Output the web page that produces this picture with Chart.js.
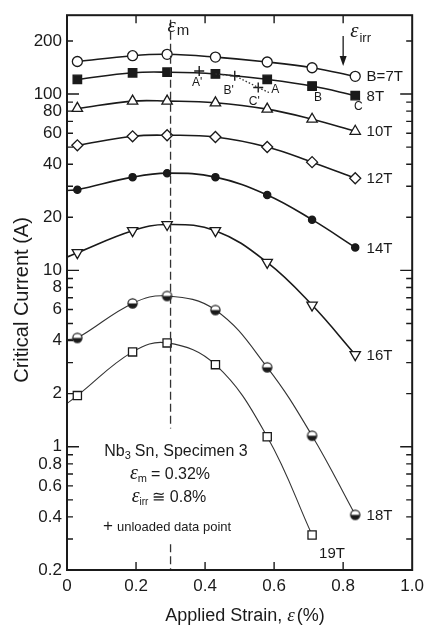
<!DOCTYPE html>
<html>
<head>
<meta charset="utf-8">
<script src="https://cdn.jsdelivr.net/npm/chart.js@4"></script>
<style>
  html, body { margin: 0; padding: 0; background: #fff; }
  #wrap { width: 430px; height: 628px; }
</style>
</head>
<body>
<div id="wrap"><canvas id="chart" width="430" height="628"></canvas></div>
<script>
// strain positions of the measured points (%)
const strainPoints = [0.03, 0.19, 0.29, 0.43, 0.58, 0.71, 0.835];

// critical current (A) for each field
const current7T = [153, 165, 168, 162, 152, 141, 126];
const current8T = [121, 132, 133, 130, 121, 111, 98];
const current10T = [82.9, 91.2, 91.2, 89.2, 82.1, 72, 61.5];
const current12T = [51.2, 57.6, 58.4, 57.1, 50.1, 41.1, 33.3];
const current14T = [28.7, 33.8, 35.6, 33.8, 26.8, 19.4, 13.5];
const current16T = [12.6, 16.8, 18.2, 16.8, 11.1, 6.36, 3.33];
const current18T = [4.14, 6.5, 7.16, 5.96, 2.82, 1.155, 0.411];
const current19T = [1.95, 3.45, 3.88, 2.92, 1.14, 0.316];

const fieldLabels = ['B=7T', '8T', '10T', '12T', '14T', '16T', '18T', '19T'];
// where the fitted curve meets the left axis (null = curve starts at first point)
const curveStart = [null, null, null, null, 28.4, 11.9, 4.05, 1.76];

// unloaded data points A', B', C'
const unloadedStrain = [0.383, 0.486, 0.554];
const unloadedCurrent = [135, 127, 109];
const unloadedLabels = ["A'", "B'", "C'"];
// dotted unloading path
const unloadPathStrain = [0.43, 0.486, 0.554, 0.585];
const unloadPathCurrent = [130, 127, 109, 102];

// vertical dashed line at eps_m
const epsMStrain = 0.30;
const epsMLineCurrent = [264, 1.27, null, 0.28, 0.2];
const epsIrrStrain = 0.8;

const strainTicks = [0, 0.2, 0.4, 0.6, 0.8, 1.0];
const currentTicks = [0.2, 0.4, 0.6, 0.8, 1, 2, 4, 6, 8, 10, 20, 40, 60, 80, 100, 200];

const SANS = '"Liberation Sans", Arial, Helvetica, sans-serif';
const SERIF = '"Liberation Serif", "DejaVu Serif", serif';
const INK = '#1a1a1a';

function halfDisc(r) {
  const c = document.createElement('canvas');
  const s = Math.ceil(2 * r + 3);
  c.width = s; c.height = s;
  const g = c.getContext('2d');
  g.beginPath(); g.arc(s / 2, s / 2, r, 0, Math.PI * 2); g.fillStyle = '#fff'; g.fill();
  g.beginPath(); g.arc(s / 2, s / 2, r, 0, Math.PI); g.closePath(); g.fillStyle = INK; g.fill();
  g.beginPath(); g.arc(s / 2, s / 2, r, 0, Math.PI * 2); g.strokeStyle = INK; g.lineWidth = 1.2; g.stroke();
  return c;
}

const seriesCurrents = [current7T, current8T, current10T, current12T, current14T, current16T, current18T, current19T];
const seriesStyles = [
  { pointStyle: 'circle', radius: 5, fill: '#fff', width: 1.6, color: INK },
  { pointStyle: 'rect', radius: 6, fill: INK, width: 1.6, color: INK },
  { pointStyle: 'triangle', radius: 6, fill: '#fff', width: 1.6, color: INK },
  { pointStyle: 'rectRot', radius: 5.5, fill: '#fff', width: 1.6, color: INK },
  { pointStyle: 'circle', radius: 3.6, fill: INK, width: 1.6, color: INK },
  { pointStyle: 'triangle', radius: 6, rotation: 180, fill: '#fff', width: 1.6, color: INK },
  { pointStyle: halfDisc(4.6), radius: 4.6, fill: '#fff', width: 1.1, color: '#333' },
  { pointStyle: 'rect', radius: 5.8, fill: '#fff', width: 1.1, color: '#333' },
];

const curveSets = seriesCurrents.map((vals, i) => {
  const s = seriesStyles[i];
  const pts = vals.map((v, j) => ({ x: strainPoints[j], y: v }));
  if (curveStart[i] !== null) pts.unshift({ x: 0, y: curveStart[i] });
  return {
    label: fieldLabels[i],
    data: pts,
    borderColor: s.color,
    borderWidth: s.width,
    tension: 0.4,
    pointStyle: s.pointStyle,
    pointRotation: s.rotation || 0,
    pointRadius: (ctx) => (ctx.raw && ctx.raw.x === 0 ? 0 : s.radius),
    pointBackgroundColor: s.fill,
    pointBorderColor: INK,
    pointBorderWidth: 1.3,
  };
});

const extraSets = [
  {
    label: 'eps_m',
    data: epsMLineCurrent.map((v) => ({ x: epsMStrain, y: v })),
    borderColor: '#333',
    borderWidth: 1.3,
    borderDash: [8, 4],
    pointRadius: 0,
    spanGaps: false,
  },
  {
    label: 'unload path',
    data: unloadPathStrain.map((v, i) => ({ x: v, y: unloadPathCurrent[i] })),
    borderColor: '#333',
    borderWidth: 1.3,
    borderDash: [1.5, 2],
    pointRadius: 0,
  },
  {
    label: 'unloaded',
    data: unloadedStrain.map((v, i) => ({ x: v, y: unloadedCurrent[i] })),
    showLine: false,
    pointStyle: 'cross',
    pointRadius: 5,
    pointBorderColor: INK,
    pointBorderWidth: 1.4,
  },
];

// draws a row of text pieces with different fonts / offsets
function drawRuns(ctx, parts, x, y, align) {
  ctx.save();
  ctx.textAlign = 'left';
  let total = 0;
  parts.forEach((p) => { ctx.font = p.font; p.w = ctx.measureText(p.t).width; total += p.w + (p.gap || 0); });
  let cx = align === 'center' ? x - total / 2 : x;
  parts.forEach((p) => { ctx.font = p.font; ctx.fillText(p.t, cx, y + (p.dy || 0)); cx += p.w + (p.gap || 0); });
  ctx.restore();
}

const framePlugin = {
  id: 'frame',
  afterDraw(chart) {
    const { ctx, chartArea: a } = chart;
    const xs = chart.scales.x, ys = chart.scales.y;
    ctx.save();
    ctx.strokeStyle = INK;
    ctx.lineWidth = 2;
    ctx.strokeRect(a.left, a.top, a.right - a.left, a.bottom - a.top);

    // inward tick marks
    ctx.lineWidth = 1.4;
    ctx.beginPath();
    strainTicks.slice(1, -1).forEach((v) => {
      const px = xs.getPixelForValue(v);
      ctx.moveTo(px, a.bottom); ctx.lineTo(px, a.bottom - 8);
      ctx.moveTo(px, a.top); ctx.lineTo(px, a.top + 8);
    });
    [0.1, 1, 10, 100].forEach((dec) => {
      for (let n = 1; n <= 9; n++) {
        const v = n * dec;
        if (v < 0.2 || v > 280) continue;
        const py = ys.getPixelForValue(v);
        const len = n === 1 ? 12 : 6;
        ctx.moveTo(a.left, py); ctx.lineTo(a.left + len, py);
        ctx.moveTo(a.right, py); ctx.lineTo(a.right - len, py);
      }
    });
    ctx.stroke();

    ctx.fillStyle = INK;
    ctx.textBaseline = 'middle';
    ctx.textAlign = 'left';

    // field labels
    ctx.font = '15px ' + SANS;
    seriesCurrents.forEach((vals, i) => {
      const last = vals.length - 1;
      if (i === 7) {
        ctx.fillText(fieldLabels[i], xs.getPixelForValue(strainPoints[last]) + 7, ys.getPixelForValue(vals[last]) + 19);
      } else {
        ctx.fillText(fieldLabels[i], xs.getPixelForValue(0.868), ys.getPixelForValue(vals[last]) + 1);
      }
    });

    // A, B, C and the unloaded labels
    ctx.font = '12px ' + SANS;
    ctx.textAlign = 'center';
    const abc = [['A', 4, 8, 10], ['B', 5, 6, 12], ['C', 6, 3, 11]];
    abc.forEach(([t, idx, dx, dy]) => {
      ctx.fillText(t, xs.getPixelForValue(strainPoints[idx]) + dx, ys.getPixelForValue(current8T[idx]) + dy);
    });
    const offs = [[-2, 12], [-6, 15], [-4, 14]];
    unloadedLabels.forEach((t, i) => {
      ctx.fillText(t, xs.getPixelForValue(unloadedStrain[i]) + offs[i][0], ys.getPixelForValue(unloadedCurrent[i]) + offs[i][1]);
    });

    // eps_m and eps_irr markers at the top
    ctx.textBaseline = 'alphabetic';
    const mx = xs.getPixelForValue(epsMStrain);
    drawRuns(ctx, [
      { t: 'ε', font: 'italic 21px ' + SERIF, gap: 1 },
      { t: 'm', font: '15px ' + SANS, dy: 3 },
    ], mx - 3, 32, 'left');
    const ix = xs.getPixelForValue(epsIrrStrain);
    drawRuns(ctx, [
      { t: 'ε', font: 'italic 21px ' + SERIF, gap: 1 },
      { t: 'irr', font: '13px ' + SANS, dy: 5 },
    ], ix + 7, 37, 'left');
    ctx.lineWidth = 1.3;
    ctx.beginPath();
    ctx.moveTo(ix, 36); ctx.lineTo(ix, 62);
    ctx.stroke();
    ctx.beginPath();
    ctx.moveTo(ix - 3.5, 56); ctx.lineTo(ix, 66); ctx.lineTo(ix + 3.5, 56); ctx.closePath();
    ctx.fill();

    // info block
    const bx = 176;
    drawRuns(ctx, [
      { t: 'Nb', font: '16px ' + SANS },
      { t: '3', font: '11px ' + SANS, dy: 3, gap: 4 },
      { t: 'Sn, Specimen 3', font: '16px ' + SANS },
    ], bx, 456, 'center');
    drawRuns(ctx, [
      { t: 'ε', font: 'italic 20px ' + SERIF },
      { t: 'm', font: '11px ' + SANS, dy: 3, gap: 4 },
      { t: '= 0.32%', font: '16px ' + SANS },
    ], bx - 6, 479, 'center');
    drawRuns(ctx, [
      { t: 'ε', font: 'italic 20px ' + SERIF },
      { t: 'irr', font: '10px ' + SANS, dy: 3, gap: 4 },
      { t: '≅ 0.8%', font: '16px ' + SANS },
    ], bx - 7, 502, 'center');
    drawRuns(ctx, [
      { t: '+', font: '17px ' + SANS, gap: 4 },
      { t: 'unloaded data point', font: '13px ' + SANS },
    ], 103, 531, 'left');

    // axis titles
    drawRuns(ctx, [
      { t: 'Applied Strain, ', font: '18px ' + SANS },
      { t: 'ε', font: 'italic 19px ' + SERIF, gap: 2 },
      { t: '(%)', font: '18px ' + SANS },
    ], 245, 621, 'center');
    ctx.save();
    ctx.translate(28, 300);
    ctx.rotate(-Math.PI / 2);
    ctx.textAlign = 'center';
    ctx.font = '20px ' + SANS;
    ctx.fillText('Critical Current (A)', 0, 0);
    ctx.restore();

    ctx.restore();
  },
};

new Chart(document.getElementById('chart'), {
  type: 'line',
  data: { datasets: [...extraSets, ...curveSets] },
  options: {
    responsive: false,
    animation: false,
    layout: { padding: { top: 15, right: 12, left: 0, bottom: 0 }, autoPadding: false },
    plugins: { legend: { display: false }, tooltip: { enabled: false } },
    scales: {
      x: {
        type: 'linear',
        min: 0,
        max: 1,
        afterBuildTicks: (scale) => { scale.ticks = strainTicks.map((v) => ({ value: v })); },
        afterFit: (scale) => { scale.height = 58; },
        grid: { display: false, drawTicks: false },
        border: { display: false },
        ticks: {
          padding: 6,
          color: INK,
          font: { family: SANS, size: 17 },
          autoSkip: false,
          maxRotation: 0,
          callback: (v) => (v === 0 ? '0' : v.toFixed(1)),
        },
      },
      y: {
        type: 'logarithmic',
        min: 0.2,
        max: 280,
        afterBuildTicks: (scale) => { scale.ticks = currentTicks.map((v) => ({ value: v })); },
        afterFit: (scale) => { scale.width = 67; },
        grid: { display: false, drawTicks: false },
        border: { display: false },
        ticks: {
          padding: 5,
          color: INK,
          font: { family: SANS, size: 17 },
          autoSkip: false,
          callback: (v) => String(v),
        },
      },
    },
  },
  plugins: [framePlugin],
});
</script>
</body>
</html>
